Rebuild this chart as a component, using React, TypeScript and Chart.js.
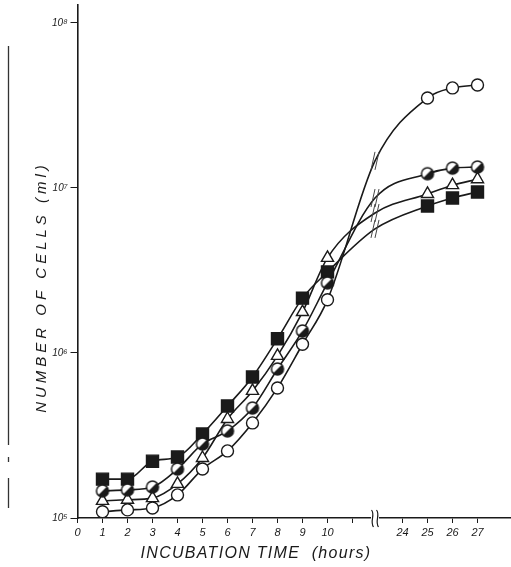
import React, { useEffect, useRef } from 'react';
import { Chart, registerables } from 'chart.js';

Chart.register(...registerables);

// ---- data ----
const hours = [1, 2, 3, 4, 5, 6, 7, 8, 9, 10, 25, 26, 27];
const openCircleCells = [1.09e5, 1.12e5, 1.15e5, 1.38e5, 1.98e5, 2.55e5, 3.77e5, 6.14e5, 1.13e6, 2.10e6, 3.51e7, 4.04e7, 4.21e7];
const halfCircleCells = [1.46e5, 1.48e5, 1.54e5, 1.98e5, 2.81e5, 3.37e5, 4.64e5, 8.0e5, 1.36e6, 2.66e6, 1.22e7, 1.32e7, 1.34e7];
const triangleCells = [1.27e5, 1.29e5, 1.32e5, 1.61e5, 2.31e5, 3.98e5, 5.89e5, 9.6e5, 1.77e6, 3.77e6, 9.2e6, 1.04e7, 1.13e7];
const squareCells = [1.72e5, 1.72e5, 2.21e5, 2.34e5, 3.23e5, 4.77e5, 7.16e5, 1.22e6, 2.15e6, 3.10e6, 7.78e6, 8.7e6, 9.46e6];
// where each drawn curve crosses the axis break (read at the break marks)
const curveAtBreak = [1.46e7, 8.69e6, 7.05e6, 5.65e6];

const xTickHours = [0, 1, 2, 3, 4, 5, 6, 7, 8, 9, 10, 11, 24, 25, 26, 27];
const xTickLabels = ['0', '1', '2', '3', '4', '5', '6', '7', '8', '9', '10', '', '24', '25', '26', '27'];
const yTickValues = [1e5, 1e6, 1e7, 1e8];
const yTickLabels = ['10\u2075', '10\u2076', '10\u2077', '10\u2078'];

const X_TITLE = 'INCUBATION TIME  (hours)';
const Y_TITLE = 'NUMBER OF CELLS (ml)';

// axis break: hours 11..24 compressed (24 drawn where 13 would be)
const HOURS_CUT = 11;
const BREAK_POS = 11.9;
const pos = (h: number) => (h > 12 ? h - HOURS_CUT : h);

const FONT = "'Liberation Sans', 'DejaVu Sans', sans-serif";
const INK = '#1a1a1a';

function makeHalfCircle(): HTMLCanvasElement {
  const c = document.createElement('canvas');
  c.width = 16;
  c.height = 16;
  const g = c.getContext('2d')!;
  const r = 6;
  g.beginPath();
  g.arc(8, 8, r, 0, Math.PI * 2);
  g.fillStyle = '#fff';
  g.fill();
  g.beginPath();
  g.moveTo(8, 8);
  g.arc(8, 8, r, -Math.PI / 4, (3 * Math.PI) / 4);
  g.closePath();
  g.fillStyle = INK;
  g.fill();
  g.beginPath();
  g.arc(8, 8, r, 0, Math.PI * 2);
  g.lineWidth = 1.5;
  g.strokeStyle = INK;
  g.stroke();
  return c;
}

const decorPlugin = {
  id: 'decor',
  afterDatasetsDraw(chart: any) {
    const ctx = chart.ctx;
    ctx.save();
    ctx.strokeStyle = '#444';
    ctx.lineWidth = 1;
    chart.data.datasets.forEach((ds: any, di: number) => {
      const meta = chart.getDatasetMeta(di);
      ds.data.forEach((p: any, i: number) => {
        if (p.mark) return;
        const el = meta.data[i];
        for (const off of [-2, 2]) {
          ctx.beginPath();
          ctx.moveTo(el.x + off - 2, el.y + 9);
          ctx.lineTo(el.x + off + 2, el.y - 9);
          ctx.stroke();
        }
      });
    });
    ctx.restore();
  },
  afterDraw(chart: any) {
    const ctx = chart.ctx;
    const xs = chart.scales.x;
    const area = chart.chartArea;
    const px = xs.getPixelForValue(BREAK_POS);
    ctx.save();
    // axis break symbol
    ctx.fillStyle = '#fff';
    ctx.fillRect(px - 4, area.bottom - 2, 8, 4);
    ctx.strokeStyle = INK;
    ctx.lineWidth = 1.2;
    for (const off of [-2.5, 2.5]) {
      ctx.beginPath();
      ctx.moveTo(px + off - 1, area.bottom - 8);
      ctx.bezierCurveTo(px + off + 3, area.bottom - 3, px + off - 3, area.bottom + 3, px + off + 1, area.bottom + 9);
      ctx.stroke();
    }
    // scan edge line at left
    ctx.strokeStyle = '#333';
    ctx.lineWidth = 1.3;
    for (const [a, b] of [[46, 445], [457, 462], [478, 508]]) {
      ctx.beginPath();
      ctx.moveTo(8.5, a);
      ctx.lineTo(8.5, b);
      ctx.stroke();
    }
    // axis titles
    ctx.fillStyle = INK;
    ctx.textAlign = 'center';
    ctx.textBaseline = 'middle';
    ctx.font = `italic 16px ${FONT}`;
    (ctx as any).letterSpacing = '1.3px';
    ctx.fillText(X_TITLE, 256, 554);
    ctx.translate(42, 287);
    ctx.rotate(-Math.PI / 2);
    ctx.font = `italic 15px ${FONT}`;
    (ctx as any).letterSpacing = '4px';
    ctx.fillText(Y_TITLE, 0, 0);
    ctx.restore();
  },
};

export default function App() {
  const ref = useRef<HTMLCanvasElement | null>(null);

  useEffect(() => {
    if (!ref.current) return;
    const half = makeHalfCircle();
    const toPts = (vals: number[], breakVal: number) => {
      const pts: any[] = hours.map((h, i) => ({ x: pos(h), y: vals[i], mark: true }));
      const idx = hours.findIndex((h) => h > 12);
      pts.splice(idx, 0, { x: BREAK_POS, y: breakVal, mark: false });
      return pts;
    };
    const common = {
      borderColor: INK,
      borderWidth: 1.6,
      cubicInterpolationMode: 'monotone' as const,
      pointBorderColor: INK,
      pointBorderWidth: 1.4,
      fill: false,
    };
    const r = (size: number) => (c: any) => (c.raw && c.raw.mark ? size : 0);
    const options: any = {
      animation: false,
      responsive: false,
      events: [],
      layout: { autoPadding: false, padding: { top: 5, right: 1, left: 0, bottom: 0 } },
      plugins: { legend: { display: false }, tooltip: { enabled: false }, title: { display: false } },
      scales: {
        x: {
          type: 'linear',
          min: 0,
          max: 17.3,
          afterBuildTicks: (s: any) => {
            s.ticks = xTickHours.map((h) => ({ value: pos(h) }));
          },
          afterFit: (s: any) => {
            s.height = 49;
            s.paddingLeft = 0;
            s.paddingRight = 0;
          },
          ticks: {
            autoSkip: false,
            maxRotation: 0,
            color: INK,
            padding: 3,
            font: { family: FONT, style: 'italic', size: 11 },
            callback: (_v: any, i: number) => xTickLabels[i],
          },
          grid: { drawOnChartArea: false, drawTicks: true, tickLength: 5, color: INK, lineWidth: 1 },
          border: { display: true, color: INK, width: 1.6 },
        },
        y: {
          type: 'logarithmic',
          min: 1e5,
          max: 1.285e8,
          afterBuildTicks: (s: any) => {
            s.ticks = yTickValues.map((v) => ({ value: v }));
          },
          afterFit: (s: any) => {
            s.width = 77.5;
            s.paddingTop = 0;
            s.paddingBottom = 0;
          },
          ticks: {
            autoSkip: false,
            color: INK,
            padding: 3,
            font: { family: FONT, style: 'italic', size: 10 },
            callback: (_v: any, i: number) => yTickLabels[i],
          },
          grid: { drawOnChartArea: false, drawTicks: true, tickLength: 7, color: INK, lineWidth: 1 },
          border: { display: true, color: INK, width: 1.6 },
        },
      },
    };
    const chart = new Chart(ref.current, {
      type: 'line',
      data: {
        datasets: [
          { ...common, label: 'open circles', data: toPts(openCircleCells, curveAtBreak[0]), pointStyle: 'circle', pointRadius: r(6), pointBackgroundColor: '#fff' },
          { ...common, label: 'half circles', data: toPts(halfCircleCells, curveAtBreak[1]), pointStyle: half as any, pointRadius: r(6), pointBackgroundColor: '#fff' },
          { ...common, label: 'triangles', data: toPts(triangleCells, curveAtBreak[2]), pointStyle: 'triangle', pointRadius: r(7), pointBackgroundColor: '#fff' },
          { ...common, label: 'squares', data: toPts(squareCells, curveAtBreak[3]), pointStyle: 'rect', pointRadius: r(8.5), pointBackgroundColor: INK },
        ] as any,
      },
      options,
      plugins: [decorPlugin],
    });
    return () => chart.destroy();
  }, []);

  return (
    <div style={{ position: 'fixed', left: 0, top: 0, width: 511, height: 567, background: '#fff' }}>
      <canvas ref={ref} width={511} height={567} style={{ display: 'block' }} />
    </div>
  );
}
